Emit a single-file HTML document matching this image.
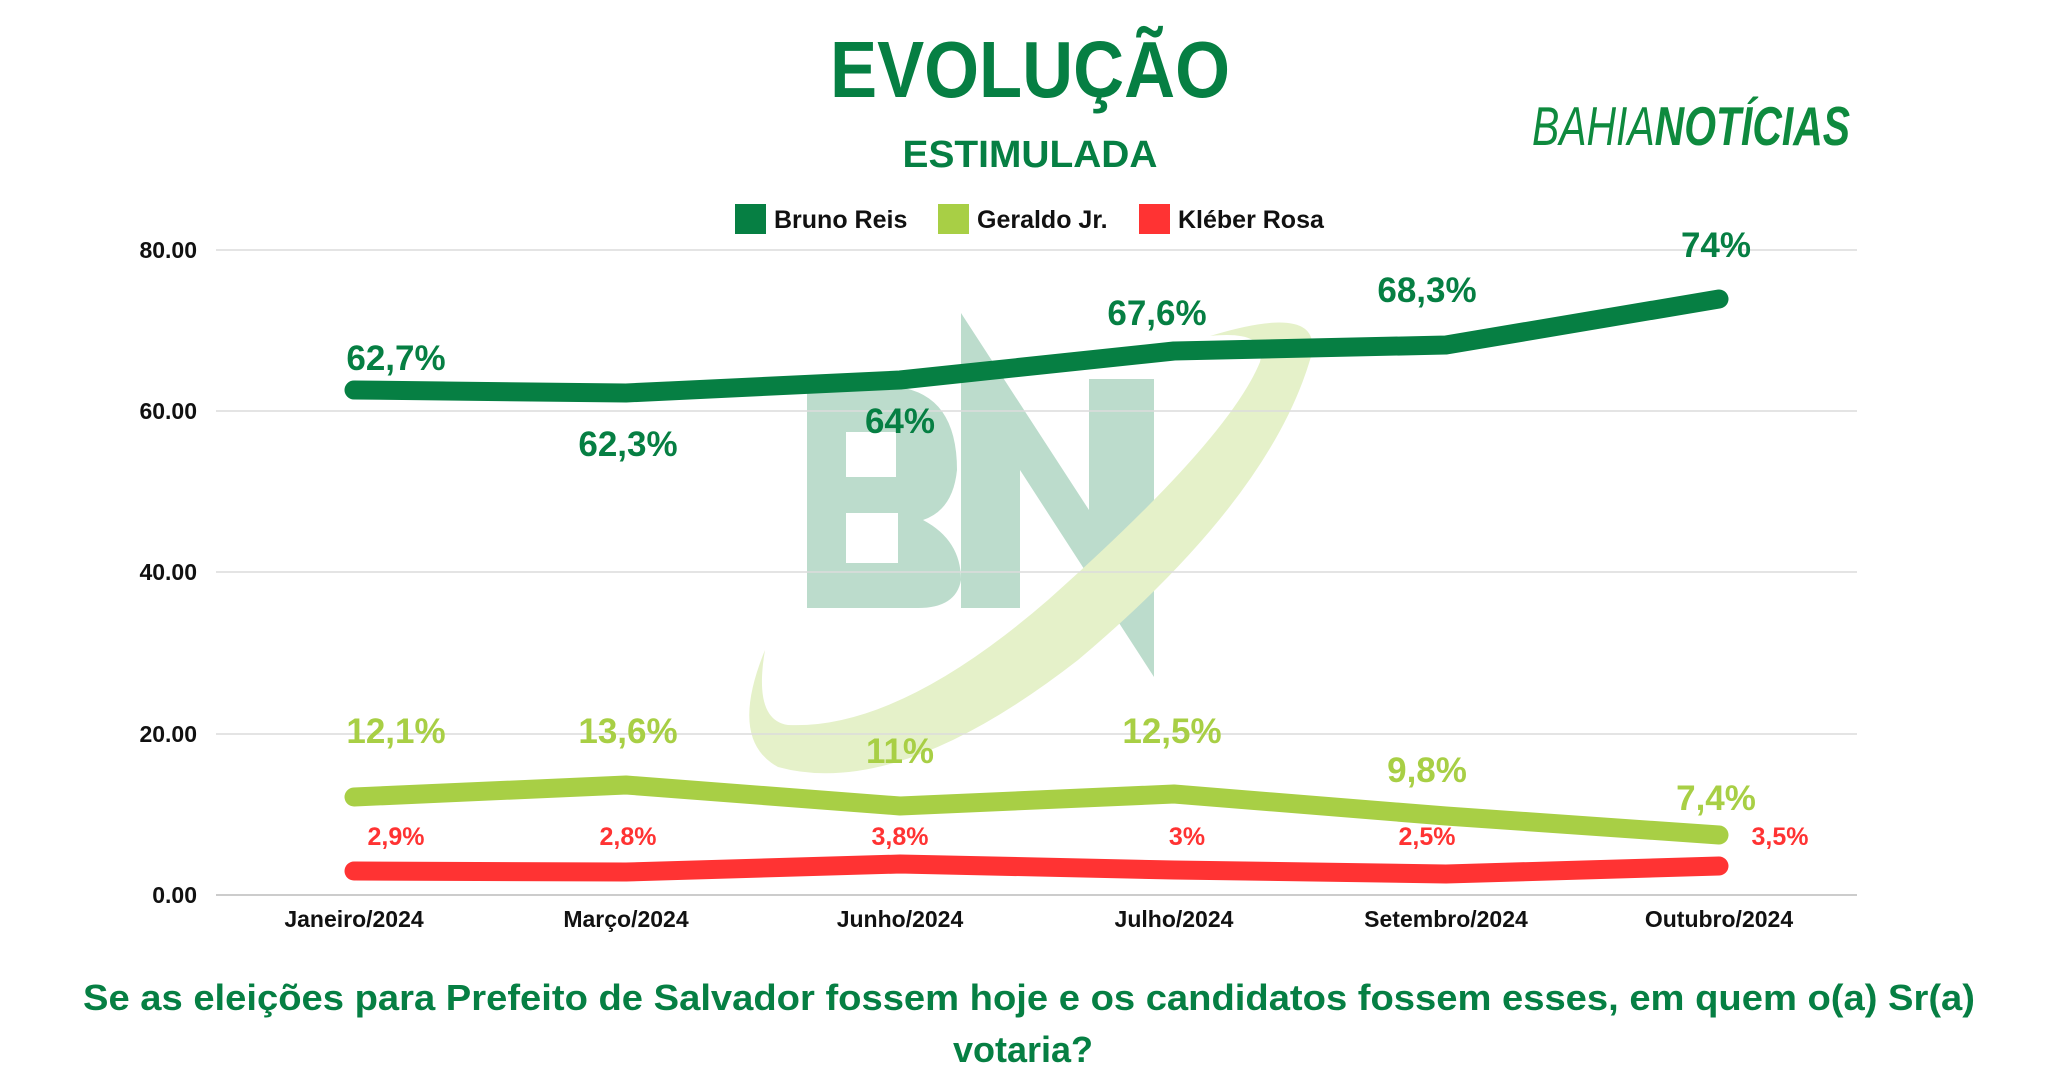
<!DOCTYPE html>
<html><head><meta charset="utf-8"><style>
html,body{margin:0;padding:0;background:#fff;}
svg{display:block;}
text{font-family:"Liberation Sans",sans-serif;font-weight:bold;}
</style></head><body>
<svg width="2057" height="1080" viewBox="0 0 2057 1080" xmlns="http://www.w3.org/2000/svg">
<g fill="#bcdccc">
<path d="M807,387 L898,387 Q957,395 957,470 Q953,510 923,520 Q961,540 961,580 Q956,608 918,608 L807,608 Z" />
<path d="M961,313 L1089,510 L1089,379 L1154,379 L1154,677 L1020,470 L1020,608 L961,608 Z"/>
</g>
<rect x="846" y="432" width="50" height="45" fill="#fff"/>
<rect x="846" y="513" width="52" height="50" fill="#fff"/>
<path d="M1210,336 Q1328,300 1310,360 Q1268,500 1078,660 Q898,800 778,767 Q728,740 765,650 Q753,720 788,725 Q898,730 1048,600 Q1228,440 1260,362 Q1268,330 1210,336 Z" fill="#e5f1c9"/>
<g stroke="#dcdcdc" stroke-width="1.5">
<line x1="216" y1="250" x2="1857" y2="250"/>
<line x1="216" y1="411" x2="1857" y2="411"/>
<line x1="216" y1="572" x2="1857" y2="572"/>
<line x1="216" y1="734" x2="1857" y2="734"/>
</g>
<line x1="216" y1="895" x2="1857" y2="895" stroke="#bbb" stroke-width="1.5"/>
<g font-size="23" text-anchor="end" fill="#111">
<text x="197" y="258">80.00</text><text x="197" y="419">60.00</text><text x="197" y="580">40.00</text><text x="197" y="742">20.00</text><text x="197" y="903">0.00</text>
</g>
<g font-size="23" text-anchor="middle" fill="#111">
<text x="354" y="927">Janeiro/2024</text><text x="626" y="927">Março/2024</text><text x="900" y="927">Junho/2024</text><text x="1174" y="927">Julho/2024</text><text x="1446" y="927">Setembro/2024</text><text x="1719" y="927">Outubro/2024</text>
</g>
<g fill="none" stroke-width="19" stroke-linecap="round" stroke-linejoin="round">
<polyline stroke="#067f43" points="354,390 626,393 900,380 1174,351 1446,345 1719,299"/>
<polyline stroke="#a8cf45" points="354,797 626,785 900,806 1174,794 1446,816 1719,835"/>
<polyline stroke="#ff3333" points="354,871 626,872 900,864 1174,870 1446,874 1719,866"/>
</g>
<g font-size="35" text-anchor="middle" fill="#067f43">
<text x="396" y="370">62,7%</text><text x="628" y="456">62,3%</text><text x="900" y="433">64%</text><text x="1157" y="325">67,6%</text><text x="1427" y="302">68,3%</text><text x="1716" y="257">74%</text>
</g>
<g font-size="35" text-anchor="middle" fill="#a8cf45">
<text x="396" y="743">12,1%</text><text x="628" y="743">13,6%</text><text x="900" y="763">11%</text><text x="1172" y="743">12,5%</text><text x="1427" y="782">9,8%</text><text x="1716" y="810">7,4%</text>
</g>
<g font-size="25" text-anchor="middle" fill="#ff3333">
<text x="396" y="845">2,9%</text><text x="628" y="845">2,8%</text><text x="900" y="845">3,8%</text><text x="1187" y="845">3%</text><text x="1427" y="845">2,5%</text><text x="1780" y="845">3,5%</text>
</g>
<rect x="735" y="204" width="31" height="30" fill="#067f43"/>
<text x="774" y="228" font-size="25" fill="#111">Bruno Reis</text>
<rect x="938" y="204" width="31" height="30" fill="#a8cf45"/>
<text x="977" y="228" font-size="25" fill="#111">Geraldo Jr.</text>
<rect x="1139" y="204" width="31" height="30" fill="#ff3333"/>
<text x="1178" y="228" font-size="25" fill="#111">Kléber Rosa</text>
<text x="1030" y="97" font-size="80" text-anchor="middle" fill="#067f43" textLength="400" lengthAdjust="spacingAndGlyphs">EVOLUÇÃO</text>
<text x="1030" y="167" font-size="38" text-anchor="middle" fill="#067f43" textLength="255" lengthAdjust="spacingAndGlyphs">ESTIMULADA</text>
<text x="1532" y="145" font-size="55" fill="#0e8a3e" font-style="italic" textLength="318" lengthAdjust="spacingAndGlyphs"><tspan font-weight="normal">BAHIA</tspan>NOTÍCIAS</text>
<text x="1029" y="1010" font-size="36" text-anchor="middle" fill="#067f43" textLength="1892" lengthAdjust="spacingAndGlyphs">Se as eleições para Prefeito de Salvador fossem hoje e os candidatos fossem esses, em quem o(a) Sr(a)</text>
<text x="1023" y="1062" font-size="36" text-anchor="middle" fill="#067f43">votaria?</text>
</svg>
</body></html>
